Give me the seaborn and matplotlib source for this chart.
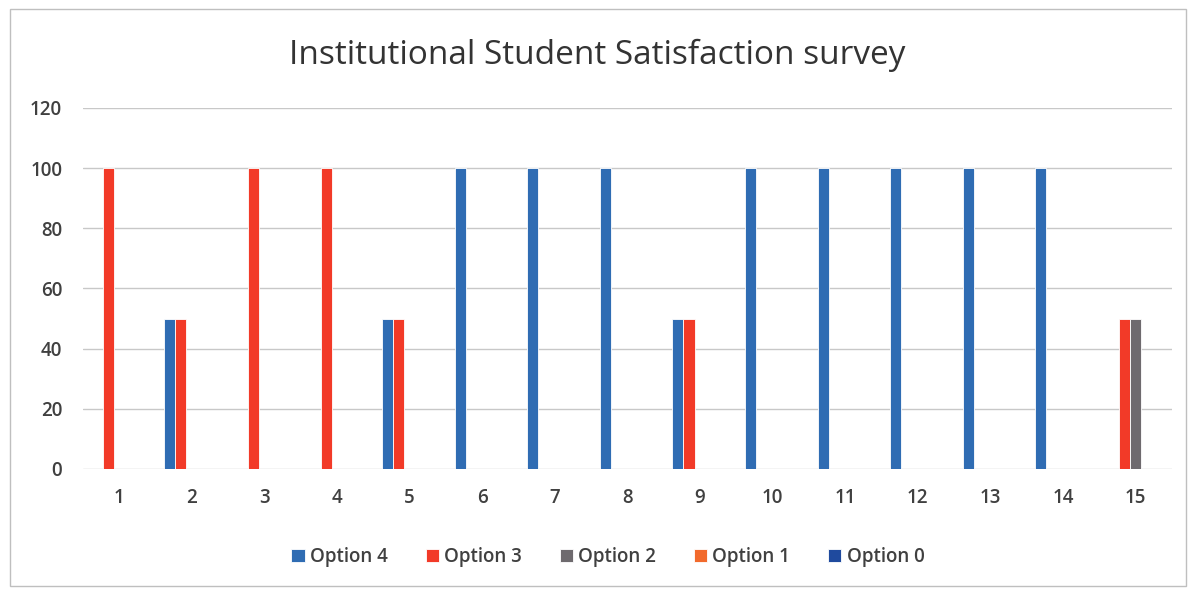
import pandas as pd
import matplotlib.pyplot as plt
import seaborn as sns
from matplotlib.patches import Rectangle

# Survey data: share of responses per question and option
questions = [str(i) for i in range(1, 16)]
options = ['Option 4', 'Option 3', 'Option 2', 'Option 1', 'Option 0']
option4 = [0, 50, 0, 0, 50, 100, 100, 100, 50, 100, 100, 100, 100, 100, 0]
option3 = [100, 50, 100, 100, 50, 0, 0, 0, 50, 0, 0, 0, 0, 0, 50]
option2 = [0, 0, 0, 0, 0, 0, 0, 0, 0, 0, 0, 0, 0, 0, 50]
option1 = [0] * 15
option0 = [0] * 15
colors = ['#2F6CB3', '#F23A28', '#6E6A6E', '#F26A2C', '#1F4A9E']

rows = []
for opt, vals in zip(options, [option4, option3, option2, option1, option0]):
    for q, v in zip(questions, vals):
        rows.append({'Question': q, 'Option': opt, 'Value': v})
df = pd.DataFrame(rows)

sns.set_style('white')
plt.rcParams['font.family'] = ['Open Sans', 'DejaVu Sans']

fig = plt.figure(figsize=(11.94, 5.92), dpi=100)
ax = fig.add_axes([0.0695, 0.2078, 0.912, 0.6098])
sns.barplot(data=df, x='Question', y='Value', hue='Option', order=questions,
            hue_order=options, palette=colors, width=0.76, ax=ax,
            edgecolor='white', linewidth=0.6, saturation=1)

ax.set_ylim(0, 120)
ax.set_yticks(range(0, 121, 20))
ax.yaxis.grid(True, color='#c8c8c8', linewidth=1)
ax.set_axisbelow(True)
for s in ax.spines.values():
    s.set_visible(False)
ax.set_xlabel('')
ax.set_ylabel('')
ax.tick_params(axis='both', length=0, labelsize=13.5, colors='#404040')
ax.tick_params(axis='x', pad=14)
ax.tick_params(axis='y', pad=15)
for lbl in ax.get_xticklabels() + ax.get_yticklabels():
    lbl.set_fontweight('semibold')

fig.suptitle('Institutional Student Satisfaction survey', y=0.935,
             fontsize=24, color='#333333', fontweight='medium')

leg = ax.legend(loc='upper center', bbox_to_anchor=(0.482, -0.17), ncol=5,
                frameon=False, prop={'size': 13.5, 'weight': 'semibold'},
                handlelength=0.7, handleheight=0.7, handletextpad=0.3,
                columnspacing=2.0, labelcolor='#404040')

fig.patches.append(Rectangle((0.008, 0.01), 0.985, 0.975, transform=fig.transFigure,
                             fill=False, edgecolor='#bfbfbf', linewidth=1))

plt.savefig('out.png', dpi=100)
